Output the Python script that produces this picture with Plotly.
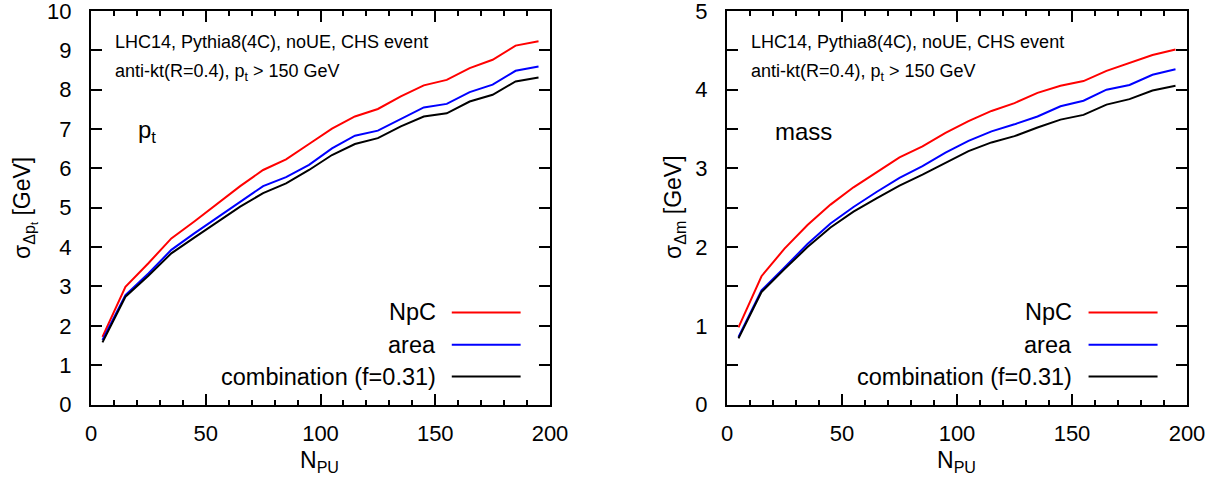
import plotly.graph_objects as go

# ---------------- data ----------------
npu = [5, 15, 25, 35, 45, 55, 65, 75, 85, 95, 105, 115, 125, 135, 145, 155, 165, 175, 185, 195]

pt_npc = [1.72, 2.99, 3.59, 4.22, 4.65, 5.10, 5.55, 5.96, 6.23, 6.62, 7.01, 7.32, 7.51, 7.83, 8.11, 8.25, 8.55, 8.76, 9.12, 9.23]
pt_area = [1.64, 2.78, 3.33, 3.93, 4.35, 4.75, 5.15, 5.55, 5.78, 6.09, 6.51, 6.83, 6.96, 7.25, 7.55, 7.64, 7.94, 8.13, 8.48, 8.59]
pt_comb = [1.58, 2.74, 3.27, 3.84, 4.24, 4.63, 5.03, 5.37, 5.62, 5.96, 6.34, 6.62, 6.77, 7.07, 7.32, 7.40, 7.70, 7.87, 8.21, 8.31]

m_npc = [0.98, 1.63, 1.98, 2.28, 2.54, 2.76, 2.95, 3.14, 3.28, 3.45, 3.60, 3.73, 3.83, 3.96, 4.05, 4.11, 4.24, 4.34, 4.44, 4.51]
m_area = [0.86, 1.45, 1.74, 2.04, 2.30, 2.51, 2.70, 2.88, 3.03, 3.20, 3.35, 3.47, 3.56, 3.66, 3.79, 3.86, 4.00, 4.06, 4.19, 4.26]
m_comb = [0.84, 1.43, 1.72, 2.00, 2.25, 2.45, 2.62, 2.78, 2.92, 3.07, 3.22, 3.33, 3.41, 3.52, 3.62, 3.68, 3.81, 3.88, 3.99, 4.05]

series_names = ["NpC", "area", "combination (f=0.31)"]
series_colors = ["#ff0000", "#0000ff", "#000000"]

x_ticks = [0, 50, 100, 150, 200]
y1_ticks = [0, 1, 2, 3, 4, 5, 6, 7, 8, 9, 10]
y2_ticks = [0, 1, 2, 3, 4, 5]

FONT = "Liberation Sans, Arial, Helvetica, sans-serif"

fig = go.Figure()

for vals, name, col in zip([pt_npc, pt_area, pt_comb], series_names, series_colors):
    fig.add_trace(go.Scatter(x=npu, y=vals, mode="lines", name=name,
                             line=dict(color=col, width=2), showlegend=False,
                             xaxis="x", yaxis="y"))
for vals, name, col in zip([m_npc, m_area, m_comb], series_names, series_colors):
    fig.add_trace(go.Scatter(x=npu, y=vals, mode="lines", name=name,
                             line=dict(color=col, width=2), showlegend=False,
                             xaxis="x2", yaxis="y2"))

W, H = 1222, 483
def px(v):
    return v / W
def py(v):
    return (H - v) / H

common_x = dict(range=[0, 200], tickvals=x_ticks, ticks="inside", ticklen=11, tickwidth=1.5,
                tickcolor="black", showline=True, linecolor="black", linewidth=2,
                mirror="allticks", showgrid=False, zeroline=False, automargin=False,
                ticklabeloverflow="allow",
                tickfont=dict(size=22, color="black", family=FONT),
                ticklabelstandoff=8,
                minor=dict(dtick=10, ticks="inside", ticklen=5, tickwidth=1.5, tickcolor="black", showgrid=False))
common_y = dict(ticks="inside", ticklen=11, tickwidth=1.5, tickcolor="black",
                showline=True, linecolor="black", linewidth=2, mirror="allticks",
                showgrid=False, zeroline=False, automargin=False,
                ticklabeloverflow="allow",
                tickfont=dict(size=22, color="black", family=FONT),
                ticklabelstandoff=13)

fig.update_layout(
    width=W, height=H,
    margin=dict(l=0, r=0, t=0, b=0, pad=0, autoexpand=False),
    paper_bgcolor="white", plot_bgcolor="white",
    font=dict(family=FONT, color="black"),
    hovermode=False,
    xaxis=dict(domain=[px(91), px(550)], anchor="y", **common_x),
    xaxis2=dict(domain=[px(727), px(1187)], anchor="y2", **common_x),
    yaxis=dict(domain=[py(404.5), py(11)], anchor="x", range=[0, 10], tickvals=y1_ticks, **common_y),
    yaxis2=dict(domain=[py(404.5), py(11)], anchor="x2", range=[0, 5], tickvals=y2_ticks,
                minor=dict(dtick=0.5, ticks="inside", ticklen=11, tickwidth=1.5, tickcolor="black",
                           showgrid=False),
                **common_y),
)

annos = []
shapes = []
for ax, yref in [("x", "y"), ("x2", "y2")]:
    xr = ax + " domain"
    yr = yref + " domain"
    annos.append(dict(text="LHC14, Pythia8(4C), noUE, CHS event", xref=xr, yref=yr, x=0.048, y=0.922,
                      xanchor="left", yanchor="middle", showarrow=False, font=dict(size=18)))
    annos.append(dict(text="anti-kt(R=0.4), p<sub>t</sub> > 150 GeV", xref=xr, yref=yr, x=0.048, y=0.843,
                      xanchor="left", yanchor="middle", showarrow=False, font=dict(size=18)))
    # legend
    ys = [0.234, 0.152, 0.071]
    for yy, name, col in zip(ys, series_names, series_colors):
        annos.append(dict(text=name, xref=xr, yref=yr, x=0.755, y=yy, xanchor="right", yanchor="middle",
                          showarrow=False, font=dict(size=23.5)))
        shapes.append(dict(type="line", xref=xr, yref=yr, x0=0.786, x1=0.936, y0=yy, y1=yy,
                           line=dict(color=col, width=2)))

annos.append(dict(text="p<sub>t</sub>", xref="x domain", yref="y domain", x=0.098, y=0.695,
                  xanchor="left", yanchor="middle", showarrow=False, font=dict(size=24)))
annos.append(dict(text="mass", xref="x2 domain", yref="y2 domain", x=0.1, y=0.695,
                  xanchor="left", yanchor="middle", showarrow=False, font=dict(size=24)))

# axis titles
annos.append(dict(text="N<sub>PU</sub>", xref="paper", yref="paper", x=px(319), y=py(461),
                  xanchor="center", yanchor="middle", showarrow=False, font=dict(size=23)))
annos.append(dict(text="N<sub>PU</sub>", xref="paper", yref="paper", x=px(956), y=py(461),
                  xanchor="center", yanchor="middle", showarrow=False, font=dict(size=23)))
annos.append(dict(text="σ<sub>Δp<sub>t</sub></sub> [GeV]", xref="paper", yref="paper", x=px(25), y=py(208),
                  xanchor="center", yanchor="middle", textangle=-90, showarrow=False, font=dict(size=23)))
annos.append(dict(text="σ<sub>Δm</sub> [GeV]", xref="paper", yref="paper", x=px(674), y=py(207),
                  xanchor="center", yanchor="middle", textangle=-90, showarrow=False, font=dict(size=23)))

fig.update_layout(annotations=annos, shapes=shapes)

fig.write_html("out.html", config={"displayModeBar": False},
               post_script="document.body.style.margin='0px';document.body.style.padding='0px';")
